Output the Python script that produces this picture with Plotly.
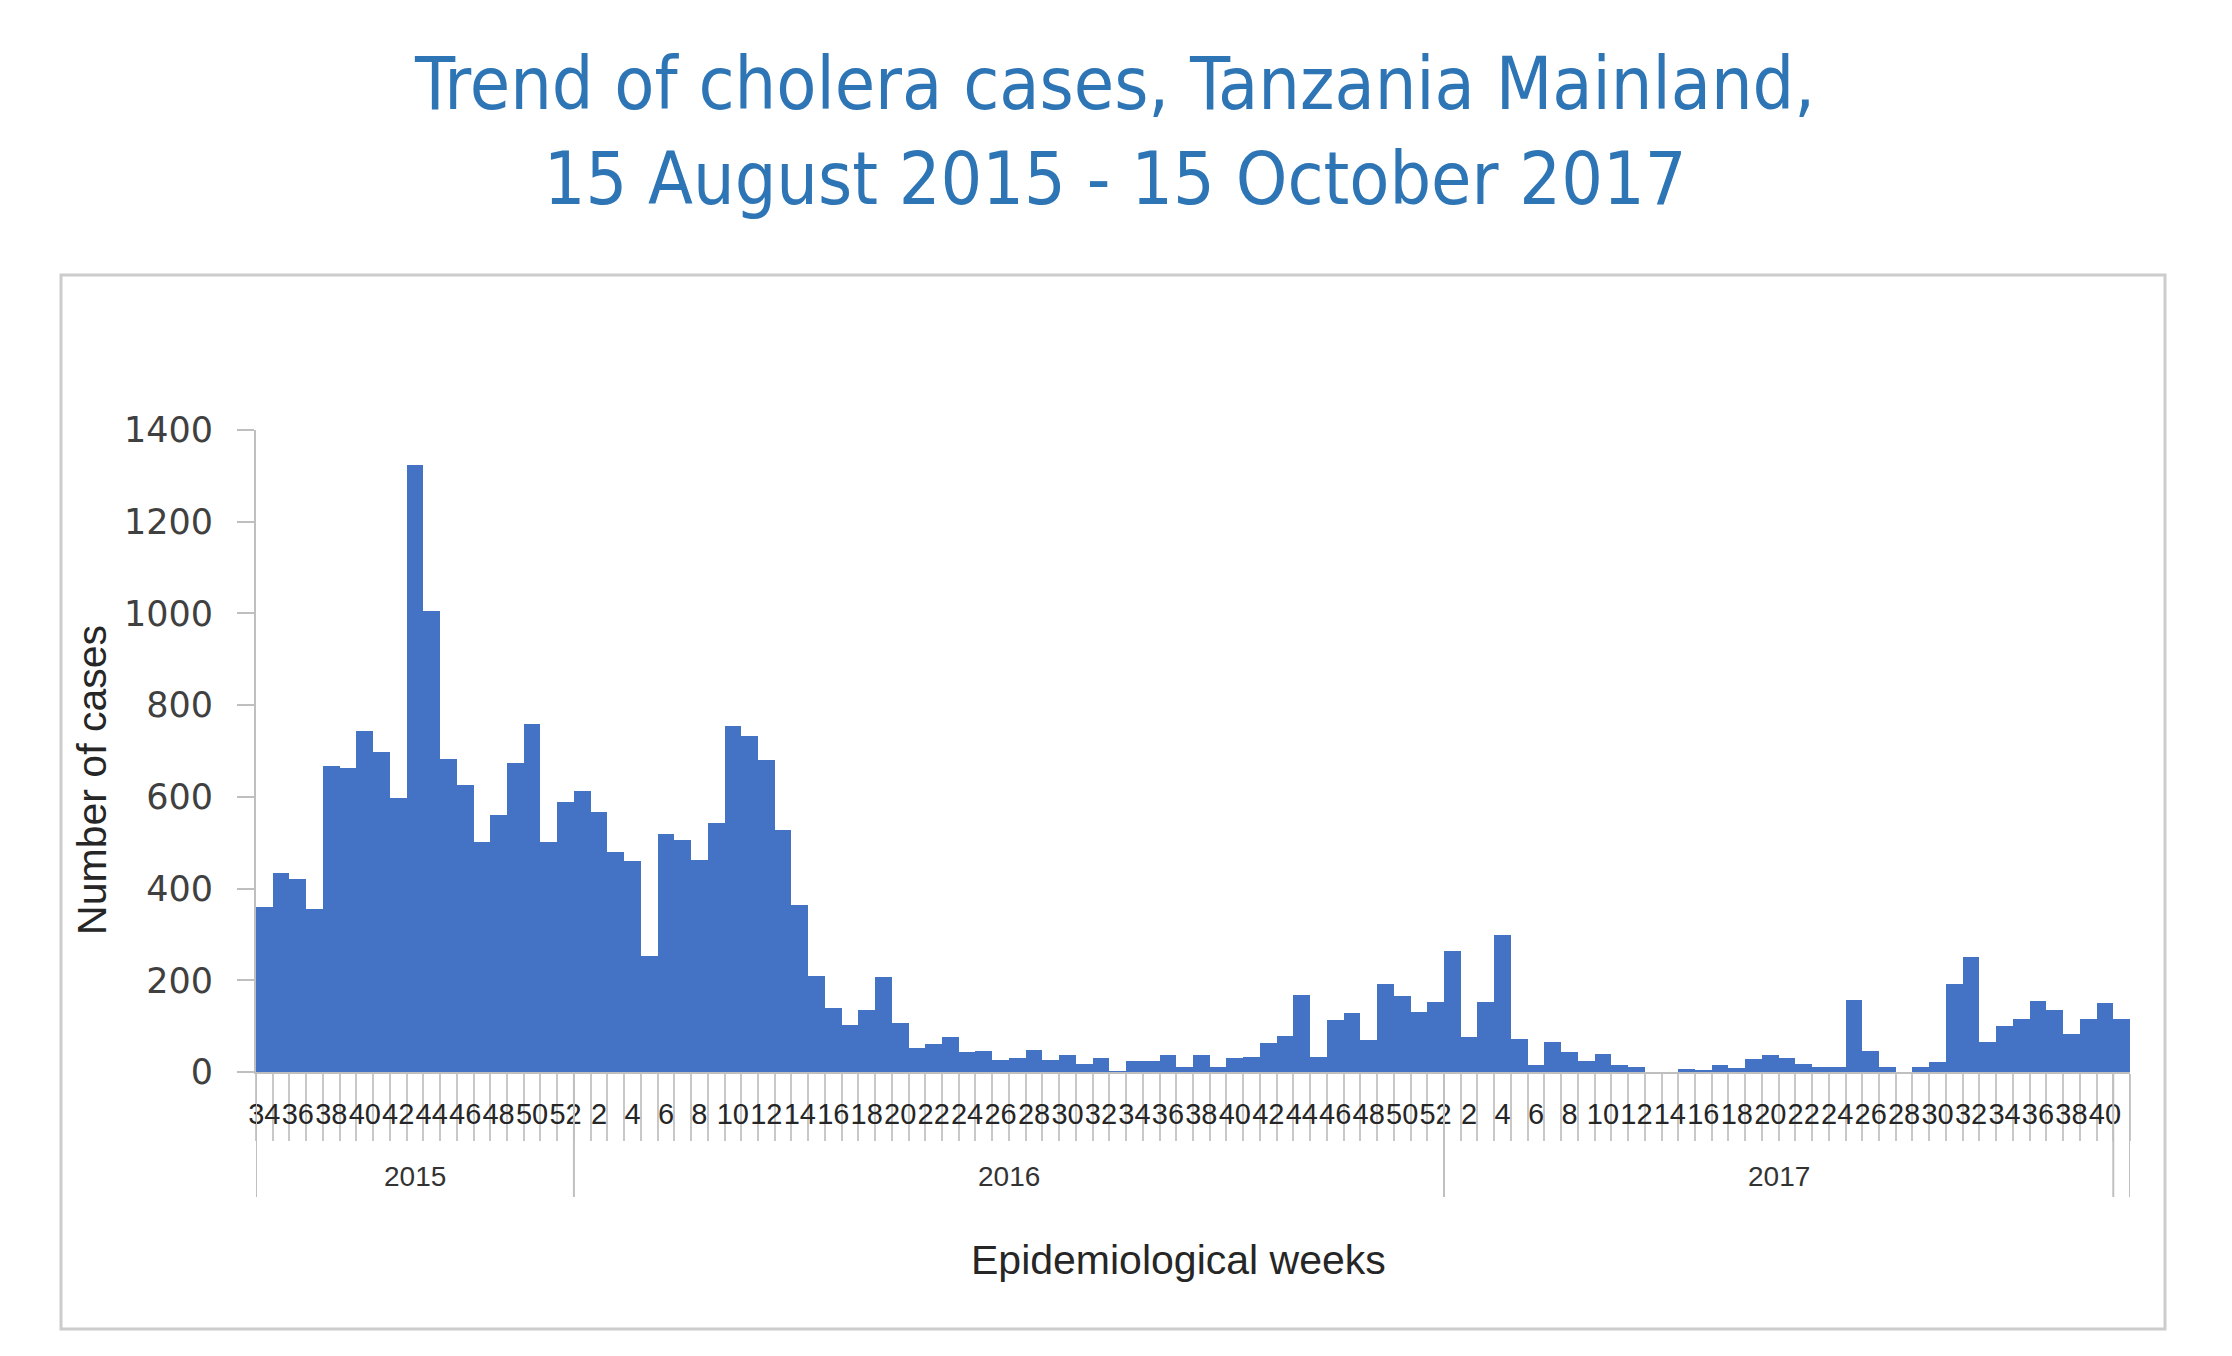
import plotly.graph_objects as go

# weekly cholera cases
weeks_2015 = list(range(34, 53))
cases_2015 = [360, 435, 420, 355, 668, 663, 743, 698, 598, 1323,
              1006, 683, 626, 501, 561, 673, 758, 501, 588]

weeks_2016 = list(range(1, 53))
cases_2016 = [613, 568, 480, 460, 253, 518, 505, 463, 543, 755,
              733, 681, 528, 365, 210, 140, 103, 135, 208, 106,
              53, 60, 76, 43, 46, 26, 31, 48, 26, 38,
              18, 30, 2, 25, 23, 36, 10, 36, 10, 31,
              33, 63, 78, 168, 33, 113, 128, 70, 191, 165,
              131, 153]

weeks_2017 = list(range(1, 42))
cases_2017 = [263, 76, 153, 298, 71, 16, 65, 43, 25, 40,
              16, 10, 0, 0, 6, 3, 16, 8, 28, 38,
              31, 18, 10, 11, 156, 46, 10, 0, 11, 21,
              193, 250, 65, 101, 115, 155, 135, 83, 115, 150,
              116]

# year groups on the axis (the last week sits outside the 2017 bracket)
year_labels = ["2015", "2016", "2017", ""]
year_sizes = [19, 52, 40, 1]

weeks = weeks_2015 + weeks_2016 + weeks_2017
cases = cases_2015 + cases_2016 + cases_2017
idx = list(range(len(weeks)))

W, H = 2232, 1356
ML, MR, MT, MB = 248, 110, 422, 292
PW, PH = W - ML - MR, H - MT - MB


def px_x(p):
    return (p - ML) / PW


def px_y(p):
    return (H - MB - p) / PH


fig = go.Figure()
fig.add_trace(go.Bar(x=idx, y=cases, marker=dict(color="#4472C4", line=dict(width=0)),
                     hovertext=[f"week {w}" for w in weeks]))

# week labels on every other category, like the original
tickvals = [i for i, w in enumerate(weeks) if w % 2 == 0]
ticktext = [str(weeks[i]) for i in tickvals]

sep_bottom = px_y(H - MB + 125)
shapes = []
annotations = []
edge = -0.5
shapes.append(dict(type="line", xref="x", yref="paper", x0=edge, x1=edge, y0=0, y1=sep_bottom,
                   line=dict(color="#c0c0c0", width=2)))
for lab, n in zip(year_labels, year_sizes):
    mid = edge + n / 2
    edge += n
    shapes.append(dict(type="line", xref="x", yref="paper", x0=edge, x1=edge, y0=0, y1=sep_bottom,
                       line=dict(color="#c0c0c0", width=2)))
    if lab:
        annotations.append(dict(x=mid, y=px_y(H - MB + 122), xref="x", yref="paper", text=lab,
                                showarrow=False, font=dict(family="Liberation Sans, Arial", size=28, color="#333333")))

# axis titles
annotations.append(dict(x=0.492, y=-188 / PH, xref="paper", yref="paper", text="Epidemiological weeks",
                        showarrow=False, xanchor="center", yanchor="middle",
                        font=dict(family="Liberation Sans, Arial", size=41, color="#262626")))
annotations.append(dict(x=-164 / PW, y=0.455, xref="paper", yref="paper", text="Number of cases",
                        showarrow=False, textangle=-90, xanchor="center", yanchor="middle",
                        font=dict(family="Liberation Sans, Arial", size=41, color="#262626")))

# outer chart frame
shapes.append(dict(type="rect", xref="paper", yref="paper", x0=px_x(53), x1=px_x(2157),
                   y0=px_y(1321), y1=px_y(267), line=dict(color="#cccccc", width=3), layer="below"))

fig.update_layout(
    width=W, height=H, autosize=False,
    margin=dict(l=ML, r=MR, t=MT, b=MB),
    paper_bgcolor="white", plot_bgcolor="white",
    bargap=0, showlegend=False,
    title=dict(text="Trend of cholera cases, Tanzania Mainland,<br>15 August 2015 - 15 October 2017",
               x=0.496, xanchor="center", y=1 - 101 / H, yanchor="middle",
               font=dict(family="Liberation Sans Narrow, DejaVu Sans Condensed, Liberation Sans, Arial", size=73, color="#2E75B6")),
    shapes=shapes, annotations=annotations,
    xaxis=dict(range=[-0.5, len(weeks) - 0.5], tickmode="array", tickvals=tickvals, ticktext=ticktext,
               ticks="", showline=True, linecolor="#bfbfbf", linewidth=2, showgrid=False, zeroline=False,
               tickangle=0,
               tickfont=dict(family="Liberation Sans, Arial", size=29, color="#262626"),
               ticklabelstandoff=15,
               minor=dict(tickmode="array", tickvals=[i - 0.5 for i in range(len(weeks) + 1)],
                          ticks="outside", ticklen=67, tickcolor="#c8c8c8", tickwidth=2, showgrid=False)),
    yaxis=dict(range=[0, 1400], dtick=200, showline=True, linecolor="#bfbfbf", linewidth=2,
               ticks="outside", ticklen=17, tickcolor="#bfbfbf", tickwidth=2, showgrid=False, zeroline=False,
               tickfont=dict(family="DejaVu Sans, Verdana", size=35, color="#404040"),
               ticklabelstandoff=17),
)

fig.write_html("out.html")
